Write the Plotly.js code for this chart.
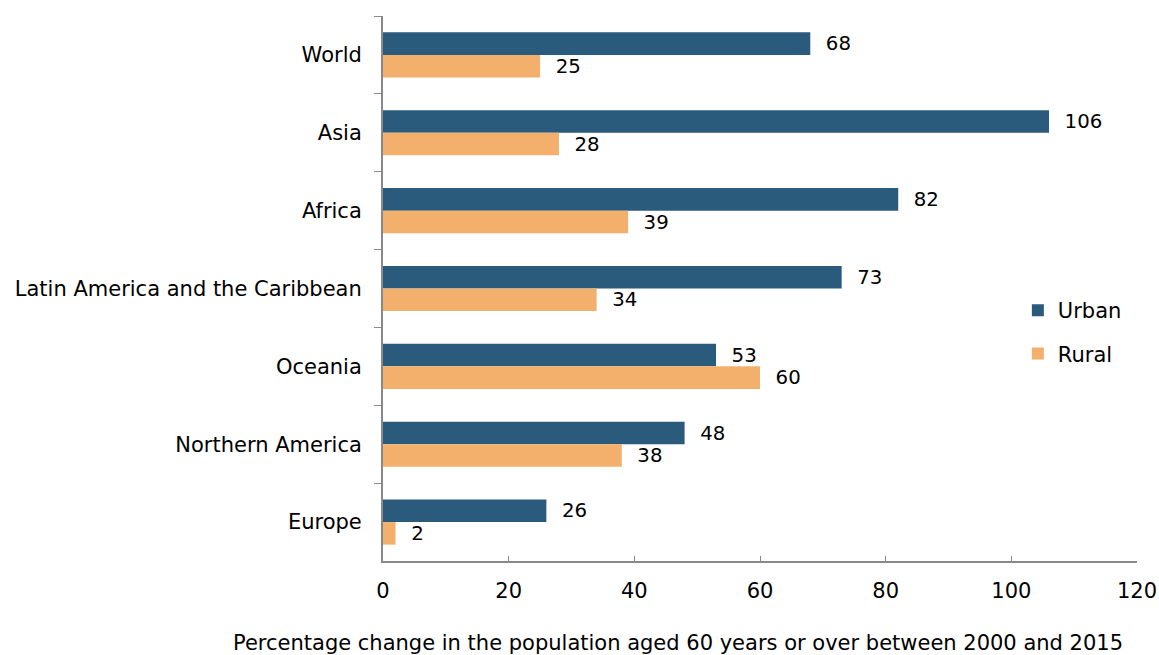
<!DOCTYPE html>
<html>
<head>
<meta charset="utf-8">
<script src="https://cdn.plot.ly/plotly-3.0.1.min.js"></script>
<style>html,body{margin:0;padding:0;background:#fff;}#chart{width:1159px;height:655px;}</style>
</head>
<body>
<div id="chart"></div>
<script>
const categories = ["World", "Asia", "Africa", "Latin America and the Caribbean", "Oceania", "Northern America", "Europe"];
const urbanValues = [68, 106, 82, 73, 53, 48, 26];
const ruralValues = [25, 28, 39, 34, 60, 38, 2];
const xTickValues = [0, 20, 40, 60, 80, 100, 120];
const xTitle = "Percentage change in the population aged 60 years or over between 2000 and 2015";

const font = {family: "DejaVu Sans, Verdana, sans-serif", size: 21, color: "#000"};
const pad = "\u00a0\u00a0";

const urban = {
  type: "bar", orientation: "h", name: "Urban",
  y: categories, x: urbanValues,
  marker: {color: "#2B5B7C"},
  text: urbanValues.map(v => pad + v), textposition: "outside",
  textfont: font, cliponaxis: false, legendgroup: "u"
};
const rural = {
  type: "bar", orientation: "h", name: "Rural",
  y: categories, x: ruralValues,
  marker: {color: "#F3B06C"},
  text: ruralValues.map(v => pad + v), textposition: "outside",
  textfont: font, cliponaxis: false, legendgroup: "r"
};

const layout = {
  width: 1159, height: 655,
  margin: {l: 383, r: 22, t: 16, b: 94},
  paper_bgcolor: "#fff", plot_bgcolor: "#fff",
  font: font,
  barmode: "group", bargap: 0.42, bargroupgap: 0,
  showlegend: true,
  legend: {x: 0.842, y: 0.42, xanchor: "left", yanchor: "middle", font: font,
           tracegroupgap: 13, traceorder: "grouped", bgcolor: "rgba(0,0,0,0)"},
  xaxis: {
    range: [0, 120], tickvals: xTickValues, ticks: "inside", ticklen: 5,
    tickcolor: "#898989", showline: true, linecolor: "#898989", linewidth: 2,
    showgrid: false, zeroline: false, tickfont: font, ticklabelstandoff: 10,
    fixedrange: true
  },
  yaxis: {
    autorange: "reversed", type: "category", ticks: "outside", ticklen: 7,
    tickson: "boundaries", tickcolor: "#898989", showline: true,
    linecolor: "#898989", linewidth: 2, showgrid: false, zeroline: false,
    tickfont: font, ticklabelstandoff: 15, fixedrange: true
  },
  annotations: [{
    text: xTitle, xref: "paper", yref: "paper", x: 0.391, y: -0.15,
    xanchor: "center", yanchor: "middle", showarrow: false, font: font
  }]
};

Plotly.newPlot("chart", [urban, rural], layout, {displayModeBar: false, staticPlot: true});
</script>
</body>
</html>
